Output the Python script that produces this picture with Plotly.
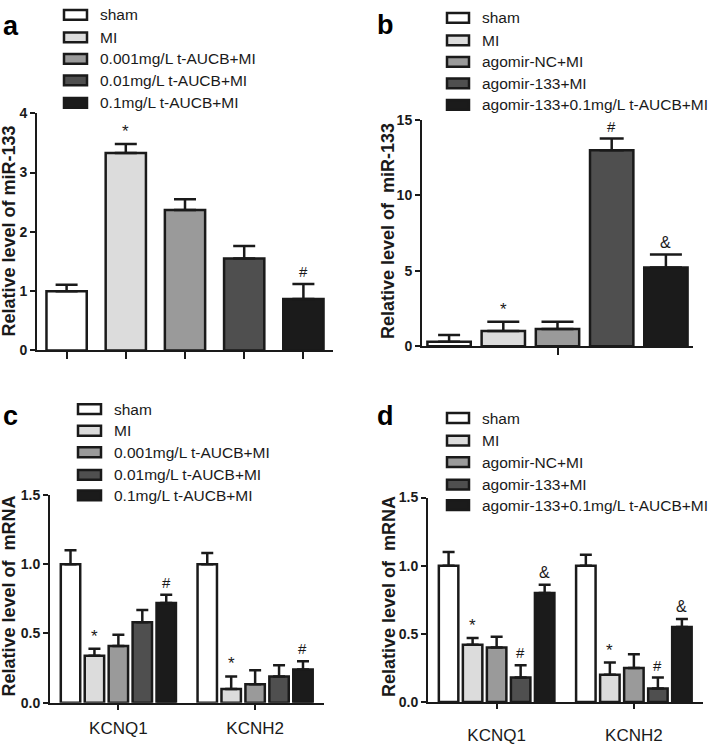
import plotly.graph_objects as go

W, H = 709, 746

# ---------------- data ----------------
a_groups = ["sham", "MI", "0.001mg/L t-AUCB+MI", "0.01mg/L t-AUCB+MI", "0.1mg/L t-AUCB+MI"]
a_values = [1.00, 3.33, 2.37, 1.55, 0.87]
a_errors = [0.11, 0.15, 0.18, 0.21, 0.25]
a_marks = ["", "*", "", "", "#"]
a_yticks = [0, 1, 2, 3, 4]

b_groups = ["sham", "MI", "agomir-NC+MI", "agomir-133+MI", "agomir-133+0.1mg/L t-AUCB+MI"]
b_values = [0.30, 1.01, 1.14, 13.0, 5.22]
b_errors = [0.44, 0.61, 0.48, 0.77, 0.86]
b_marks = ["", "*", "", "#", "&"]
b_yticks = [0, 5, 10, 15]

genes = ["KCNQ1", "KCNH2"]
c_groups = a_groups
c_values = {
    "sham": [1.00, 1.00],
    "MI": [0.34, 0.10],
    "0.001mg/L t-AUCB+MI": [0.41, 0.134],
    "0.01mg/L t-AUCB+MI": [0.58, 0.19],
    "0.1mg/L t-AUCB+MI": [0.72, 0.24],
}
c_errors = {
    "sham": [0.10, 0.08],
    "MI": [0.05, 0.09],
    "0.001mg/L t-AUCB+MI": [0.08, 0.10],
    "0.01mg/L t-AUCB+MI": [0.09, 0.08],
    "0.1mg/L t-AUCB+MI": [0.06, 0.06],
}
c_marks = {
    "sham": ["", ""],
    "MI": ["*", "*"],
    "0.001mg/L t-AUCB+MI": ["", ""],
    "0.01mg/L t-AUCB+MI": ["", ""],
    "0.1mg/L t-AUCB+MI": ["#", "#"],
}
d_groups = b_groups
d_values = {
    "sham": [1.00, 1.00],
    "MI": [0.42, 0.20],
    "agomir-NC+MI": [0.40, 0.25],
    "agomir-133+MI": [0.18, 0.10],
    "agomir-133+0.1mg/L t-AUCB+MI": [0.80, 0.55],
}
d_errors = {
    "sham": [0.10, 0.08],
    "MI": [0.05, 0.09],
    "agomir-NC+MI": [0.08, 0.10],
    "agomir-133+MI": [0.09, 0.08],
    "agomir-133+0.1mg/L t-AUCB+MI": [0.06, 0.06],
}
d_marks = {
    "sham": ["", ""],
    "MI": ["*", "*"],
    "agomir-NC+MI": ["", ""],
    "agomir-133+MI": ["#", "#"],
    "agomir-133+0.1mg/L t-AUCB+MI": ["&", "&"],
}
cd_yticks = [0.0, 0.5, 1.0, 1.5]

# ---------------- style ----------------
fills = ["#ffffff", "#dcdcdc", "#9a9a9a", "#4f4f4f", "#1b1b1b"]
INK = "#1a1a1a"
FONT = "Arial, 'Liberation Sans', sans-serif"
MARK_SIZE = {"*": 17, "#": 15, "&": 16}


def px_x(p):
    return p / W


def px_y(p):
    return 1 - p / H


fig = go.Figure()

axes = {
    # name: (x domain px, y domain px (bottom, top))
    "a": ((37, 333), (350, 107.5)),
    "b": ((422, 693), (345.7, 114.5)),
    "c": ((50, 323.5), (710, 497.5)),
    "d": ((428, 702.5), (709.3, 500.3)),
}
axis_ids = {"a": ("x", "y"), "b": ("x2", "y2"), "c": ("x3", "y3"), "d": ("x4", "y4")}

annotations = []
shapes = []


def mark_ann(xref, yref, x, y, text):
    if text:
        annotations.append(dict(
            x=x, y=y, xref=xref, yref=yref, text=text, showarrow=False,
            xanchor="center", yanchor="bottom", yshift=1 if text == "*" else 2,
            font=dict(family=FONT, size=MARK_SIZE[text], color=INK)))


# Panel a and b: one bar per trace
for key, groups, vals, errs, marks, bw, capw in [
    ("a", a_groups, a_values, a_errors, a_marks, 0.68, [11, 11, 11, 11, 11]),
    ("b", b_groups, b_values, b_errors, b_marks, 0.80, [11, 16, 16, 12, 16]),
]:
    xa, ya = axis_ids[key]
    for i, g in enumerate(groups):
        fig.add_trace(go.Bar(
            x=[g], y=[vals[i]], width=bw, offset=-bw / 2,
            marker=dict(color=fills[i], line=dict(color=INK, width=2.5)),
            error_y=dict(type="data", array=[errs[i]], arrayminus=[0], symmetric=False,
                         color=INK, thickness=2.5, width=capw[i]),
            xaxis=xa, yaxis=ya, showlegend=False, name=g))
        mark_ann(xa, ya, g, vals[i] + errs[i], marks[i])

# Panel c and d: grouped by gene
slot = 0.175
cbw = 0.142
for key, groups, vals, errs, marks in [
    ("c", c_groups, c_values, c_errors, c_marks),
    ("d", d_groups, d_values, d_errors, d_marks),
]:
    xa, ya = axis_ids[key]
    for i, g in enumerate(groups):
        center = (i - 2) * slot
        fig.add_trace(go.Bar(
            x=genes, y=vals[g], width=cbw, offset=center - cbw / 2,
            marker=dict(color=fills[i], line=dict(color=INK, width=2.5)),
            error_y=dict(type="data", array=errs[g], arrayminus=[0, 0], symmetric=False,
                         color=INK, thickness=2.5, width=6),
            xaxis=xa, yaxis=ya, showlegend=False, name=g))
        for j, gene in enumerate(genes):
            mark_ann(xa, ya, j + center, vals[g][j] + errs[g][j], marks[g][j])

# ---------------- axes ----------------
common_x = dict(showgrid=False, zeroline=False, showline=True, linecolor=INK, linewidth=2,
                ticks="outside", tickcolor=INK, tickwidth=2, fixedrange=True)
common_y = dict(showgrid=False, zeroline=False, showline=True, linecolor=INK, linewidth=2,
                ticks="outside", tickcolor=INK, tickwidth=2, ticklen=5,
                tickfont=dict(family=FONT, size=14, color=INK, weight="bold"))

layout_axes = {}
for idx, key in enumerate(["a", "b", "c", "d"]):
    (x0, x1), (yb, yt) = axes[key]
    sx = "" if idx == 0 else str(idx + 1)
    xd = dict(common_x, domain=[px_x(x0), px_x(x1)], anchor="y" + sx)
    yd = dict(common_y, domain=[px_y(yb), px_y(yt)], anchor="x" + sx)
    if key == "a":
        xd.update(type="category", categoryarray=a_groups, range=[-0.5, 4.5],
                  showticklabels=False, ticklen=7)
        yd.update(range=[0, 4], tickvals=a_yticks)
    elif key == "b":
        xd.update(type="category", categoryarray=b_groups, range=[-0.5, 4.5],
                  showticklabels=False, ticklen=7, tickmode="array", tickvals=[b_groups[2]])
        yd.update(range=[0, 15], tickvals=b_yticks)
    else:
        xd.update(type="category", categoryarray=genes, range=[-0.5, 1.5], ticklen=5,
                  tickfont=dict(family=FONT, size=17, color=INK))
        xd.update(ticklabelstandoff=12 if key == "d" else 4)
        yd.update(range=[0, 1.5], tickvals=cd_yticks, tickformat=".1f")
    layout_axes["xaxis" + sx] = xd
    layout_axes["yaxis" + sx] = yd

# ---------------- legends (drawn) ----------------
legend_pos = {
    # box x0, x1, text x, row centres
    "a": (64, 87, 98, [7, 30, 52, 74, 97], a_groups),
    "b": (447, 469, 480, [10, 33, 55, 77, 99], b_groups),
    "c": (78, 101, 112, [410, 432, 454, 477, 498], c_groups),
    "d": (447, 469, 480, [419, 442, 464, 487, 508], d_groups),
}
for key, (bx0, bx1, tx, rows, names) in legend_pos.items():
    for i, (yc, name) in enumerate(zip(rows, names)):
        shapes.append(dict(type="rect", xref="paper", yref="paper",
                           x0=px_x(bx0), x1=px_x(bx1), y0=px_y(yc + 5), y1=px_y(yc - 5),
                           fillcolor=fills[i], line=dict(color=INK, width=2.5)))
        annotations.append(dict(x=px_x(tx), y=px_y(yc), xref="paper", yref="paper",
                                text=name, showarrow=False, xanchor="left", yanchor="middle",
                                font=dict(family=FONT, size=15.5, color=INK)))

# panel letters
for letter, (lx, ly) in {"a": (1, 18), "b": (375, 17), "c": (1, 417), "d": (375, 417)}.items():
    annotations.append(dict(x=px_x(lx), y=px_y(ly), xref="paper", yref="paper", text=letter,
                            showarrow=False, xanchor="left", yanchor="middle",
                            font=dict(family=FONT, size=27, color="#000", weight="bold")))

# y-axis titles
for title, (tx, ty) in [
    ("Relative level of miR-133", (9.5, 228)),
    ("Relative level of\u00a0 miR-133", (388, 228)),
    ("Relative level of\u00a0 mRNA", (9.5, 601)),
    ("Relative level of\u00a0 mRNA", (389, 602)),
]:
    annotations.append(dict(x=px_x(tx), y=px_y(ty), xref="paper", yref="paper", text=title,
                            showarrow=False, xanchor="center", yanchor="middle", textangle=-90,
                            font=dict(family=FONT, size=18, color=INK, weight="bold")))

fig.update_layout(
    width=W, height=H, margin=dict(l=0, r=0, t=0, b=0),
    paper_bgcolor="white", plot_bgcolor="white",
    barmode="overlay", showlegend=False,
    annotations=annotations, shapes=shapes,
    **layout_axes,
)

fig.write_html("out.html", config={"displayModeBar": False},
               post_script="document.body.style.margin='0';document.body.style.overflow='hidden';")
